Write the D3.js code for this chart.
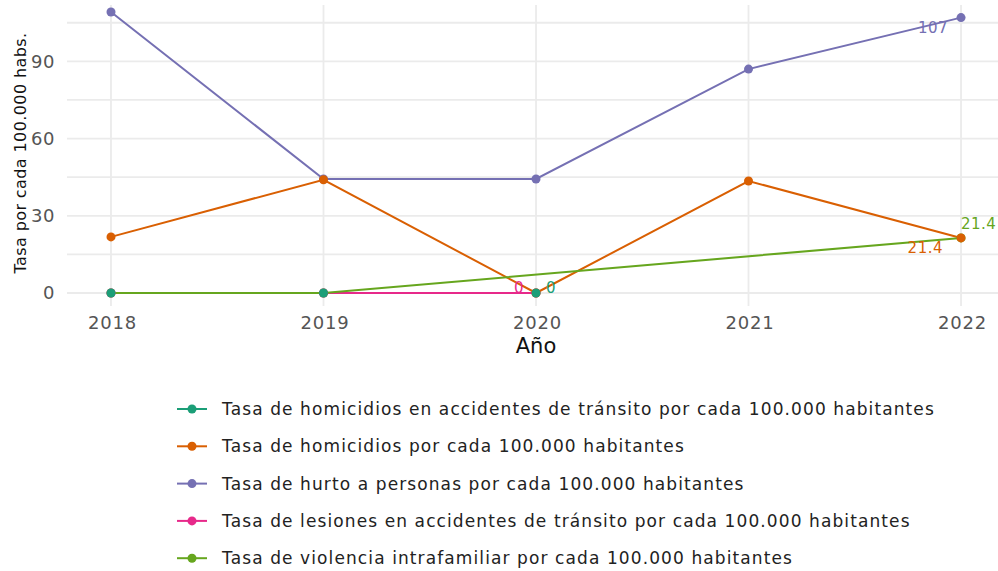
<!DOCTYPE html>
<html>
<head>
<meta charset="utf-8">
<script src="https://cdn.jsdelivr.net/npm/d3@7"></script>
<style>
  body { margin: 0; background: #fff; }
  svg { display: block; font-family: "DejaVu Sans", Verdana, sans-serif; }
</style>
</head>
<body>
<svg id="chart"></svg>
<script>
const years = [2018, 2019, 2020, 2021, 2022];
const homTransito = [0, 0, 0, null, null];
const homicidios = [21.8, 44, 0, 43.5, 21.4];
const hurto = [109.2, 44.3, 44.3, 87, 107];
const lesiones = [0, 0, 0, null, null];
const violencia = [0, 0, null, null, 21.4];

const seriesNames = [
  "Tasa de homicidios en accidentes de tránsito por cada 100.000 habitantes",
  "Tasa de homicidios por cada 100.000 habitantes",
  "Tasa de hurto a personas por cada 100.000 habitantes",
  "Tasa de lesiones en accidentes de tránsito por cada 100.000 habitantes",
  "Tasa de violencia intrafamiliar por cada 100.000 habitantes"
];
const seriesValues = [homTransito, homicidios, hurto, lesiones, violencia];
const colors = ["#1b9e77", "#d95f02", "#7570b3", "#e7298a", "#66a61e"];
// where the last-point label goes: [dx, dy, anchor]
const labelPos = [[10, 0, "start"], [-18, 15, "end"], [-13, 15, "end"], [-12, 0, "end"], [0, -9, "start"]];
const yTicks = [0, 30, 60, 90];
const yMinor = [15, 45, 75, 105];

const width = 998;
const height = 571;
const panel = {left: 67, right: 998, top: 5, bottom: 306};

const svg = d3.select("#chart").attr("width", width).attr("height", height);

const x = d3.scaleLinear()
  .domain([2017.793, 2022.174])
  .range([panel.left, panel.right]);

const y = d3.scaleLinear()
  .domain([-5.05, 111.9])
  .range([panel.bottom, panel.top]);

// grid
const grid = svg.append("g");
grid.selectAll("line.h")
  .data(yTicks.concat(yMinor))
  .enter().append("line")
  .attr("x1", panel.left).attr("x2", panel.right)
  .attr("y1", d => y(d)).attr("y2", d => y(d))
  .attr("stroke", "#ebebeb").attr("stroke-width", 1.8);
grid.selectAll("line.v")
  .data(years)
  .enter().append("line")
  .attr("x1", d => x(d)).attr("x2", d => x(d))
  .attr("y1", panel.top).attr("y2", panel.bottom)
  .attr("stroke", "#ebebeb").attr("stroke-width", 1.8);

// axes (labels only)
const xAxis = svg.append("g")
  .attr("transform", `translate(1,${panel.bottom + 7})`)
  .call(d3.axisBottom(x).tickValues(years).tickFormat(d3.format("d")).tickSize(0));
xAxis.select(".domain").remove();
xAxis.selectAll("text")
  .attr("font-size", 18).attr("letter-spacing", 0.8)
  .attr("fill", "#555").attr("font-family", "DejaVu Sans");

const yAxis = svg.append("g")
  .attr("transform", `translate(${panel.left - 9},0)`)
  .call(d3.axisLeft(y).tickValues(yTicks).tickSize(0));
yAxis.select(".domain").remove();
yAxis.selectAll("text")
  .attr("font-size", 18).attr("letter-spacing", 0.6)
  .attr("fill", "#555").attr("font-family", "DejaVu Sans");

svg.append("text")
  .attr("x", x(2020)).attr("y", 353)
  .attr("text-anchor", "middle")
  .attr("font-size", 21)
  .attr("fill", "#111")
  .text("Año");

svg.append("text")
  .attr("transform", `translate(26,153) rotate(-90)`)
  .attr("text-anchor", "middle")
  .attr("font-size", 16)
  .attr("letter-spacing", 0.4)
  .attr("fill", "#111")
  .text("Tasa por cada 100.000 habs.");

// series
const line = d3.line().x(d => x(d[0])).y(d => y(d[1]));
const series = seriesValues.map(vals =>
  years.map((yr, j) => [yr, vals[j]]).filter(d => d[1] !== null));

const lines = svg.append("g");
const dots = svg.append("g");
const labels = svg.append("g");

series.forEach((pts, i) => {
  lines.append("path")
    .datum(pts)
    .attr("d", line)
    .attr("fill", "none")
    .attr("stroke", colors[i])
    .attr("stroke-width", 2);
});

// markers stacked so the first series ends up on top
series.slice().reverse().forEach((pts, k) => {
  const i = series.length - 1 - k;
  dots.append("g").selectAll("circle")
    .data(pts)
    .enter().append("circle")
    .attr("cx", d => x(d[0]))
    .attr("cy", d => y(d[1]))
    .attr("r", 4.5)
    .attr("fill", colors[i]);
});

series.forEach((pts, i) => {
  const last = pts[pts.length - 1];
  const [dx, dy, anchor] = labelPos[i];
  labels.append("text")
    .attr("x", x(last[0]) + dx)
    .attr("y", y(last[1]) + dy)
    .attr("text-anchor", anchor)
    .attr("font-size", 15)
    .attr("letter-spacing", 0.5)
    .attr("fill", colors[i])
    .text(d3.format("~")(last[1]));
});

// legend
const legend = svg.append("g").attr("transform", "translate(177,409)");
seriesNames.forEach((name, i) => {
  const row = legend.append("g").attr("transform", `translate(0,${i * 37.3})`);
  row.append("line")
    .attr("x1", 0).attr("x2", 30)
    .attr("stroke", colors[i]).attr("stroke-width", 2);
  row.append("circle")
    .attr("cx", 15).attr("r", 4.5)
    .attr("fill", colors[i]);
  row.append("text")
    .attr("x", 45).attr("y", 6)
    .attr("font-size", 17)
    .attr("letter-spacing", 1.1)
    .attr("fill", "#222")
    .text(name);
});
</script>
</body>
</html>
